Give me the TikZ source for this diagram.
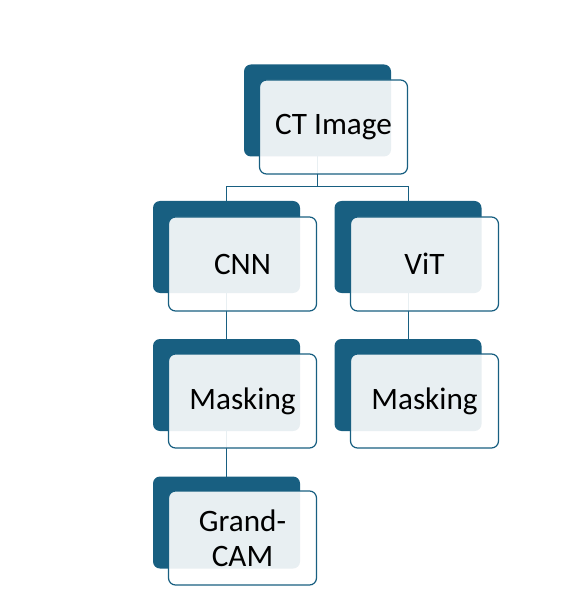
\documentclass[tikz,border=0pt]{standalone}
\usepackage{fontspec}
\setmainfont{Carlito}
\usetikzlibrary{backgrounds}
\definecolor{boxblue}{RGB}{24,95,129}
\tikzset{
  darkbox/.style={draw=none, fill=boxblue, rounded corners=3.5pt,
    minimum width=73.5pt, minimum height=46pt, inner sep=0pt},
  lightbox/.style={draw=boxblue, line width=0.6pt, fill=white, fill opacity=0.9,
    text opacity=1, rounded corners=3.5pt, minimum width=74pt, minimum height=47pt,
    inner sep=0pt, align=center, font=\fontsize{15.6}{17.5}\selectfont},
  link/.style={draw=boxblue, line width=0.5pt}
}
\begin{document}
\begin{tikzpicture}[x=0.5pt,y=-0.5pt]
  \useasboundingbox (0,0) rectangle (586,614);

  % Root: CT Image
  \node [darkbox] (ctback) at (317.5,110.5) {};
  \node [lightbox] (ct) at (333.5,127) {CT Image};

  % Left branch: CNN
  \node [darkbox] (cnnback) at (226.5,247) {};
  \node [lightbox] (cnn) at (242.5,264) {CNN};

  % Right branch: ViT
  \node [darkbox] (vitback) at (408,247) {};
  \node [lightbox] (vit) at (424.5,264) {ViT};

  % Masking under CNN
  \node [darkbox] (maskaback) at (226.5,385) {};
  \node [lightbox] (maska) at (242.5,401) {Masking};

  % Masking under ViT
  \node [darkbox] (maskbback) at (408,385) {};
  \node [lightbox] (maskb) at (424.5,401) {Masking};

  % Grand-CAM under left Masking
  \node [darkbox] (camback) at (226.5,522.5) {};
  \node [lightbox] (cam) at (242.5,538) {Grand-\\CAM};

  % Connectors, behind the boxes
  \begin{pgfonlayer}{background}
    \coordinate (split) at (317.5,187);
    \draw [link] (ctback.center) -- (split) -| (cnnback.center);
    \draw [link] (split) -| (vitback.center);
    \draw [link] (cnnback.center) -- (maskaback.center);
    \draw [link] (maskaback.center) -- (camback.center);
    \draw [link] (vitback.center) -- (maskbback.center);
  \end{pgfonlayer}
\end{tikzpicture}
\end{document}
